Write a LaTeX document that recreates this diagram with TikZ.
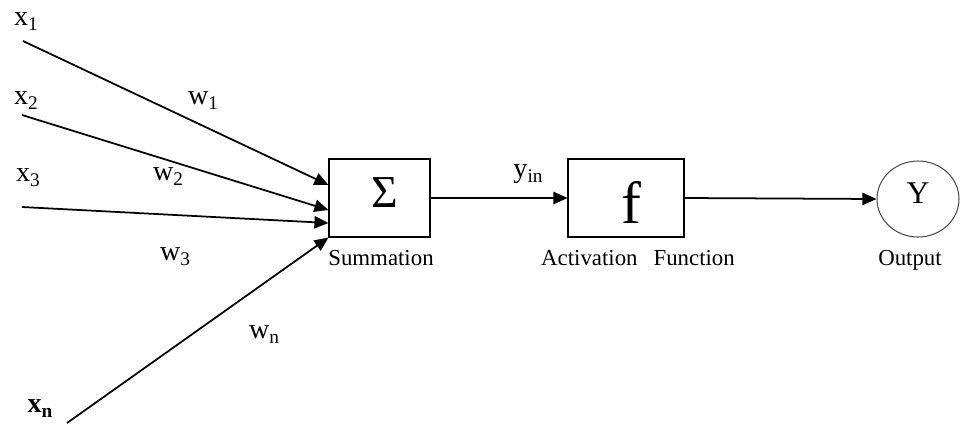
\documentclass[tikz,border=0pt]{standalone}
\usepackage{fontspec}
\setmainfont{Liberation Serif}
\usetikzlibrary{arrows.meta}
\usetikzlibrary{calc}
\usetikzlibrary{shapes.geometric}

\newcommand{\lowsub}[1]{\raisebox{-3.4pt}{\fontsize{11}{11}\selectfont #1}}

\begin{document}
\begin{tikzpicture}[x=0.02cm, y=-0.02cm,
		lbl/.style={anchor=base, inner sep=0pt, font=\fontsize{16}{18}\selectfont},
		captxt/.style={anchor=base, inner sep=0pt, font=\fontsize{13}{15}\selectfont},
		unit/.style={draw, line width=0.6pt, minimum height=1.56cm, inner sep=0pt},
		wire/.style={line width=1pt, -{Triangle[length=8pt, width=7pt]}}]
		\useasboundingbox (0,0) rectangle (960,423);
		
		% summation, activation and output
		\node[unit, minimum width=2.02cm] (sum) at (379.5,198) {};
		\node[anchor=base, inner sep=0pt, font=\fontsize{26}{28}\selectfont] (sigma) at (385,207) {Σ};
		\node[captxt] (sumtxt) at (381,265) {Summation};
		\node[unit, minimum width=2.32cm] (act) at (626,198) {};
		\node[anchor=base, inner sep=0pt, font=\fontsize{34}{36}\selectfont] (ftxt) at (631,223) {f};
		\node[captxt] (acttxt) at (638,265) {Activation\hspace{0.7em}Function};
		\node[draw=black!70, line width=0.6pt, ellipse, minimum width=1.64cm, minimum height=1.52cm, inner sep=0pt] (out) at (918,199) {};
		\node[anchor=base, inner sep=0pt, font=\fontsize{18}{20}\selectfont] (ytxt) at (918,203) {Y};
		\node[captxt] (outtxt) at (910,265) {Output};
		
		% inputs
		\coordinate (in1) at (23,41);
		\coordinate (in2) at (22,115);
		\coordinate (in3) at (22,207);
		\coordinate (inn) at (67,423);
		\node[lbl] (x1) at (26,25) {x\lowsub{1}};
		\node[lbl] (x2) at (26,104) {x\lowsub{2}};
		\node[lbl] (x3) at (28,181) {x\lowsub{3}};
		\node[lbl, font=\fontsize{16}{18}\bfseries] (xn) at (40,412) {x\lowsub{\bfseries n}};
		\node[lbl] (w1) at (203,104) {w\lowsub{1}};
		\node[lbl] (w2) at (168,180) {w\lowsub{2}};
		\node[lbl] (w3) at (175,260) {w\lowsub{3}};
		\node[lbl] (wn) at (264,338) {w\lowsub{n}};
		\draw[wire] (in1) -- ($(sum.west)+(0,-13)$);
		\draw[wire] (in2) -- ($(sum.west)+(0,12)$);
		\draw[wire] (in3) -- ($(sum.west)+(0,25)$);
		\draw[wire] (inn) -- (sum.south west);
		
		% signal path
		\node[lbl] (yin) at (528,177) {y\lowsub{in}};
		\draw[wire] (sum.east) -- (act.west);
		\draw[wire] (act.east) -- (out.west);
		
\end{tikzpicture}
\end{document}
